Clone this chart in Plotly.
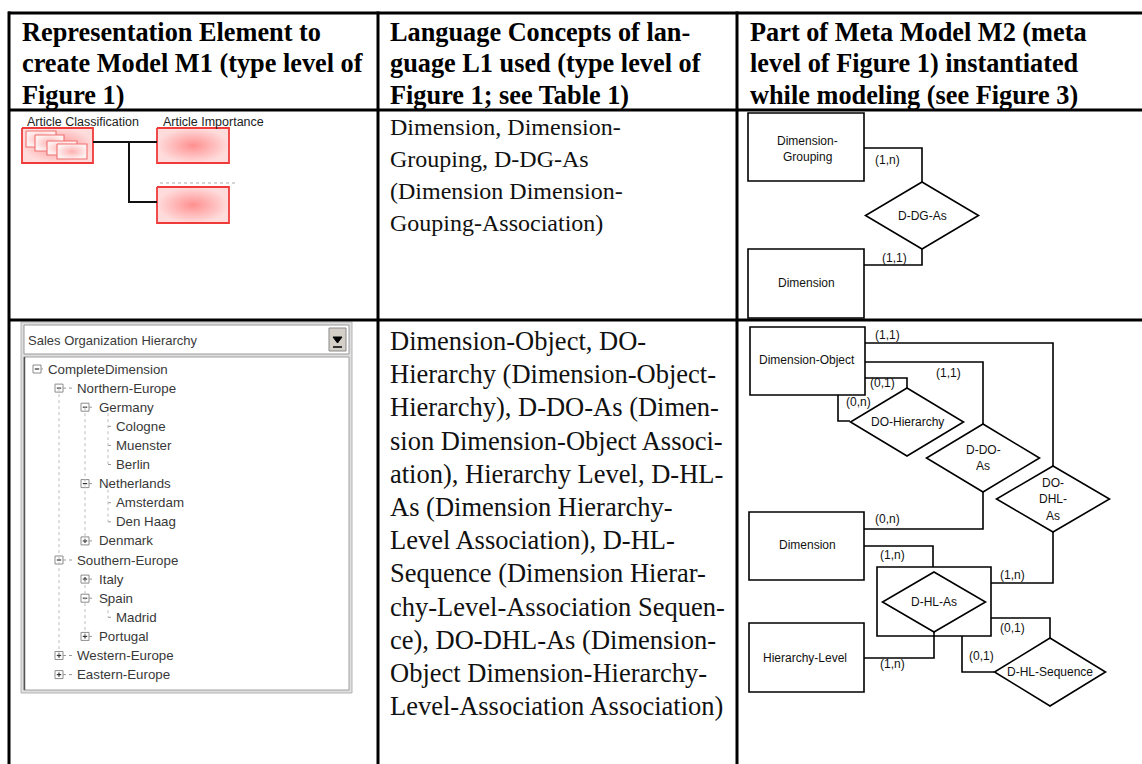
import plotly.graph_objects as go

W, H = 1142, 764

# ---------------- text content ----------------
header_col1 = ["Representation Element to", "create Model M1 (type level of", "Figure 1)"]
header_col2 = ["Language Concepts of lan-", "guage L1 used (type level of", "Figure 1; see Table 1)"]
header_col3 = ["Part of Meta Model M2 (meta", "level of Figure 1) instantiated", "while modeling (see Figure 3)"]

row1_concepts = ["Dimension, Dimension-", "Grouping, D-DG-As", "(Dimension Dimension-",
                 "Gouping-Association)"]
row2_concepts = ["Dimension-Object, DO-", "Hierarchy (Dimension-Object-", "Hierarchy), D-DO-As (Dimen-",
                 "sion Dimension-Object Associ-", "ation), Hierarchy Level, D-HL-",
                 "As (Dimension Hierarchy-", "Level Association), D-HL-", "Sequence (Dimension Hierar-",
                 "chy-Level-Association Sequen-", "ce), DO-DHL-As (Dimension-",
                 "Object Dimension-Hierarchy-", "Level-Association Association)"]

article_labels = ["Article Classification", "Article Importance"]
dropdown_label = "Sales Organization Hierarchy"

tree_labels = ["CompleteDimension", "Northern-Europe", "Germany", "Cologne", "Muenster", "Berlin",
               "Netherlands", "Amsterdam", "Den Haag", "Denmark", "Southern-Europe", "Italy", "Spain",
               "Madrid", "Portugal", "Western-Europe", "Eastern-Europe"]
tree_levels = [0, 1, 2, 3, 3, 3, 2, 3, 3, 2, 1, 2, 2, 3, 2, 1, 1]
tree_icons = ["minus", "minus", "minus", None, None, None, "minus", None, None, "plus", "minus",
              "plus", "minus", None, "plus", "plus", "plus"]

er1_entities = [["Dimension-", "Grouping"], ["Dimension"]]
er1_relation = "D-DG-As"
er1_cards = ["(1,n)", "(1,1)"]

er2_entities = [["Dimension-Object"], ["Dimension"], ["Hierarchy-Level"]]
er2_relations = [["DO-Hierarchy"], ["D-DO-", "As"], ["DO-", "DHL-", "As"], ["D-HL-As"], ["D-HL-Sequence"]]
er2_cards = ["(1,1)", "(1,1)", "(0,1)", "(0,n)", "(0,n)", "(1,n)", "(1,n)", "(0,1)", "(0,1)", "(1,n)"]

# ---------------- layout geometry (pixel space) ----------------
shapes, annotations, traces = [], [], []


def add_text(x, y, text, size, family="Liberation Sans", color="#111", xanchor="left", bold=False):
    annotations.append(dict(x=x, y=y, xref="x", yref="y", text=("<b>%s</b>" % text) if bold else text,
                            showarrow=False, xanchor=xanchor, yanchor="middle",
                            font=dict(family=family, size=size, color=color)))


def add_line(x0, y0, x1, y1, w=1.6, color="black", dash="solid"):
    shapes.append(dict(type="line", x0=x0, y0=y0, x1=x1, y1=y1, xref="x", yref="y",
                       line=dict(width=w, color=color, dash=dash)))


def add_rect(x0, y0, x1, y1, w=1.6, color="black", fill="rgba(0,0,0,0)"):
    shapes.append(dict(type="rect", x0=x0, y0=y0, x1=x1, y1=y1, xref="x", yref="y",
                       line=dict(width=w, color=color), fillcolor=fill))


def add_path(pts, w=1.6, color="black", closed=False, fill="rgba(0,0,0,0)"):
    p = "M " + " L ".join("%g,%g" % (a, b) for a, b in pts)
    if closed:
        p += " Z"
    shapes.append(dict(type="path", path=p, xref="x", yref="y", line=dict(width=w, color=color),
                       fillcolor=fill))


def add_diamond(cx, cy, hw, hh):
    add_path([(cx, cy - hh), (cx + hw, cy), (cx, cy + hh), (cx - hw, cy)], closed=True, fill="white")


def grad_box(x0, y0, x1, y1, border="#f03a3a", w=1.8, c_in="#ff9090", c_out="#ffdcdc"):
    traces.append(go.Scatter(x=[x0, x1, x1, x0, x0], y=[y0, y0, y1, y1, y0], mode="lines",
                             fill="toself", line=dict(color=border, width=w),
                             fillgradient=dict(type="radial", colorscale=[[0, c_in], [1, c_out]]),
                             hoverinfo="skip", showlegend=False))


# ---- table header text ----
hdr_y = [32, 63, 95]
for col_x, lines in zip([20, 388, 748], [header_col1, header_col2, header_col3]):
    for y, t in zip(hdr_y, lines):
        add_text(col_x, y, t, 26.3, family="Liberation Serif", color="black", bold=True)

# ---- column 2 body text ----
for i, t in enumerate(row1_concepts):
    add_text(388, 127 + i * 32.0, t, 24, family="Liberation Serif", color="#111")
for i, t in enumerate(row2_concepts):
    add_text(388, 341 + i * 33.2, t, 26.5, family="Liberation Serif", color="#111")

# ---- row 1, column 1: article boxes ----
add_text(25, 122, article_labels[0], 12.5, color="#222")
add_text(161, 122, article_labels[1], 12.5, color="#222")
grad_box(22, 128, 93, 163)
for (a, b, c, d) in [(26, 131, 56, 147), (35, 135, 64, 151), (47, 141, 77, 155), (57, 144, 87, 159)]:
    grad_box(a, b, c, d, border="#f07070", w=1.1, c_in="#ffb0b0", c_out="#fff0f0")
grad_box(157, 128, 229, 163)
grad_box(157, 187, 229, 223)
add_line(93, 142, 157, 142, w=2, color="#111")
add_path([(129, 142), (129, 202), (157, 202)], w=2, color="#111")
add_line(160, 183, 238, 183, w=1, color="#aaaaaa", dash="dot")

# ---- row 2, column 1: tree control screenshot ----
add_rect(21, 322, 352, 693, w=1, color="#b4b4b4", fill="#dedede")
add_rect(24, 325, 349, 354, w=1, color="#9a9a9a", fill="white")
add_text(26, 340, dropdown_label, 13, color="#3a3a3a")
add_rect(329, 328, 346, 351, w=1, color="#8a8a8a", fill="#d4d0c8")
add_path([(333, 337), (342, 337), (337.5, 343)], w=1, color="black", closed=True, fill="black")
add_line(333, 347, 342, 347, w=1.5, color="black")
add_rect(24, 357, 349, 690, w=1, color="#a0a0a0", fill="white")
add_line(24.5, 357, 24.5, 690, w=1.5, color="#555")

icon_x = {0: 37, 1: 59, 2: 85}
text_x = {0: 46, 1: 75, 2: 97, 3: 114}
y0_tree, dy_tree = 369, 19.1
tree_y = [y0_tree + i * dy_tree for i in range(len(tree_labels))]
for lab, lev, ic, y in zip(tree_labels, tree_levels, tree_icons, tree_y):
    if ic is not None:
        cx = icon_x[lev]
        add_rect(cx - 4, y - 4, cx + 4, y + 4, w=1, color="#8c8c8c", fill="white")
        add_line(cx - 2.2, y, cx + 2.2, y, w=1.2, color="#333")
        if ic == "plus":
            add_line(cx, y - 2.2, cx, y + 2.2, w=1.2, color="#333")
        add_line(cx + 4, y, text_x[lev] - 3, y, w=1, color="#999", dash="dot")
    else:
        add_line(108, y, 112, y, w=1, color="#999", dash="dot")
    add_text(text_x[lev], y, lab, 13.3, color="#383838")


# tree guide lines (vertical, dotted)
def vguide(x, i0, i1):
    add_line(x, tree_y[i0], x, tree_y[i1], w=1, color="#bdbdbd", dash="dot")


vguide(59, 1, 15)
vguide(85, 2, 9)
vguide(85, 11, 14)
vguide(108, 2, 5)
vguide(108, 6, 8)
vguide(108, 12, 13)

# ---- row 1, column 3: ER diagram ----
add_rect(748, 113, 864, 181)
add_rect(748, 249, 864, 318)
add_path([(864, 148), (922, 148), (922, 182)])
add_path([(922, 249), (922, 265), (864, 265)])
add_diamond(922, 215.5, 56.5, 33.5)
add_text(807, 141, er1_entities[0][0], 12, xanchor="center")
add_text(807, 157, er1_entities[0][1], 12, xanchor="center")
add_text(806, 283, er1_entities[1][0], 12, xanchor="center")
add_text(922, 216, er1_relation, 12, xanchor="center")
add_text(887, 160, er1_cards[0], 12, xanchor="center")
add_text(894, 258, er1_cards[1], 12, xanchor="center")

# ---- row 2, column 3: ER diagram ----
add_rect(750, 327, 865, 395)
add_rect(749, 512, 864, 580)
add_rect(749, 623, 864, 692)
add_rect(877, 567, 991, 636)
for pts in [[(865, 343), (1053, 343), (1053, 466)],
            [(865, 362), (983, 362), (983, 424)],
            [(865, 378), (907, 378), (907, 388)],
            [(838, 395), (838, 421), (850, 421)],
            [(983, 492), (983, 529), (864, 529)],
            [(1053, 532), (1053, 583), (991, 583)],
            [(864, 546), (933, 546), (933, 567)],
            [(991, 618), (1050, 618), (1050, 638)],
            [(962, 636), (962, 672), (994, 672)],
            [(934, 632), (934, 658), (864, 658)]]:
    add_path(pts)
rel_geom = [(907, 422, 56.5, 34), (983, 458, 56.5, 34), (1053, 499, 56.5, 33),
            (934, 602, 51.5, 30), (1050, 672, 55.5, 34)]
for cx, cy, hw, hh in rel_geom:
    add_diamond(cx, cy, hw, hh)
for (cx, cy, hw, hh), lines in zip(rel_geom, er2_relations):
    n = len(lines)
    for k, t in enumerate(lines):
        add_text(cx, cy + (k - (n - 1) / 2) * 16.5, t, 12, xanchor="center")
for (x, y), lines in zip([(807, 360), (807, 545), (805, 658)], er2_entities):
    add_text(x, y, lines[0], 12, xanchor="center")
card_pos = [(887, 335), (948, 373), (882, 383), (858, 402), (887, 519), (1012, 575),
            (892, 555), (1012, 628), (981, 656), (892, 664)]
for (x, y), t in zip(card_pos, er2_cards):
    add_text(x, y, t, 12, xanchor="center")

# ---- table rules ----
for y in [13, 110, 320]:
    add_line(8, y, W, y, w=3)
for x in [9, 378, 737]:
    add_line(x, 11.5, x, H, w=3)

fig = go.Figure(traces)
fig.update_layout(width=W, height=H, margin=dict(l=0, r=0, t=0, b=0),
                  paper_bgcolor="white", plot_bgcolor="white",
                  shapes=shapes, annotations=annotations, showlegend=False,
                  xaxis=dict(range=[0, W], visible=False, fixedrange=True),
                  yaxis=dict(range=[H, 0], visible=False, fixedrange=True))
fig.write_html("out.html", config={"displayModeBar": False},
               post_script="document.body.style.margin='0px';document.body.style.overflow='hidden';")
